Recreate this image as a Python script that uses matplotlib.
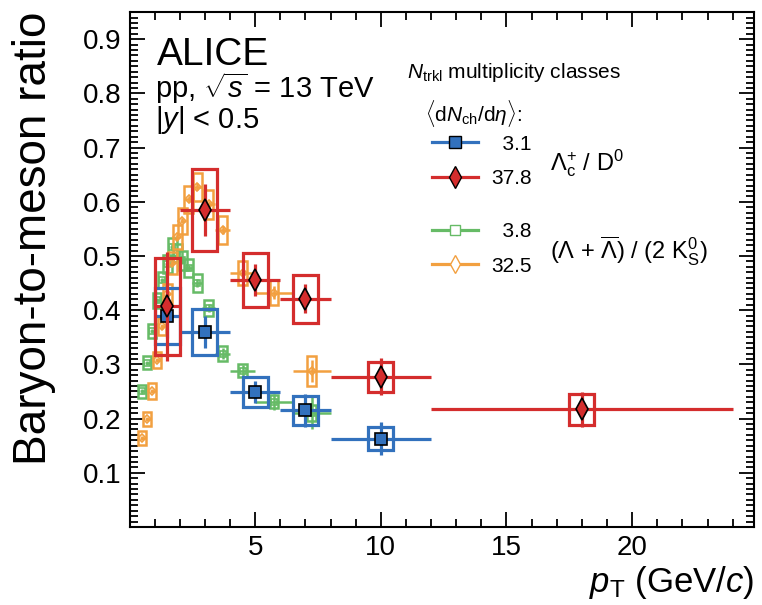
import numpy as np
import matplotlib
matplotlib.use('Agg')
import matplotlib.pyplot as plt
from matplotlib.lines import Line2D
from matplotlib.ticker import MultipleLocator, FixedLocator

plt.rcParams['font.family'] = ['Liberation Sans', 'DejaVu Sans']
plt.rcParams['mathtext.fontset'] = 'custom'
plt.rcParams['mathtext.rm'] = 'Liberation Sans'
plt.rcParams['mathtext.it'] = 'Liberation Sans:italic'
plt.rcParams['mathtext.bf'] = 'Liberation Sans:bold'

# ====================== data ======================
# Lambda_c+ / D0, pT bins (GeV/c)
pt_hf = [1.5, 3.0, 5.0, 7.0, 10.0, 18.0]
pt_hf_err = [0.5, 1.0, 1.0, 1.0, 2.0, 6.0]

# <dNch/deta> = 3.1 (no point in the last bin)
lc_low = [0.389, 0.360, 0.249, 0.215, 0.163]
lc_low_stat = [0.040, 0.030, 0.020, 0.030, 0.030]
lc_low_syst = [0.052, 0.042, 0.027, 0.027, 0.021]

# <dNch/deta> = 37.8
lc_high = [0.407, 0.585, 0.456, 0.421, 0.277, 0.217]
lc_high_stat = [0.100, 0.048, 0.030, 0.027, 0.034, 0.032]
lc_high_syst = [0.090, 0.075, 0.050, 0.044, 0.028, 0.029]

# (Lambda + anti-Lambda) / (2 K0S)
pt_lf = [0.5, 0.7, 0.9, 1.1, 1.3, 1.5, 1.7, 1.9, 2.1, 2.35, 2.7, 3.15, 3.7, 4.5, 5.75, 7.25]
pt_lf_err = [0.1, 0.1, 0.1, 0.1, 0.1, 0.1, 0.1, 0.1, 0.1, 0.15, 0.2, 0.25, 0.3, 0.5, 0.75, 0.75]

# <dNch/deta> = 3.8
lk_low = [0.250, 0.303, 0.362, 0.418, 0.455, 0.485, 0.517, 0.505, 0.492, 0.478,
          0.450, 0.404, 0.320, 0.288, 0.231, 0.210]
lk_low_stat = [0.004, 0.004, 0.004, 0.005, 0.005, 0.005, 0.006, 0.006, 0.006, 0.006,
               0.007, 0.008, 0.010, 0.010, 0.015, 0.030]
lk_low_syst = [0.012, 0.012, 0.013, 0.014, 0.015, 0.016, 0.017, 0.017, 0.017, 0.017,
               0.016, 0.015, 0.013, 0.012, 0.012, 0.015]

# <dNch/deta> = 32.5
lk_high = [0.164, 0.199, 0.251, 0.308, 0.370, 0.430, 0.487, 0.535, 0.565, 0.605,
           0.628, 0.595, 0.548, 0.468, 0.432, 0.288]
lk_high_stat = [0.003, 0.003, 0.003, 0.004, 0.004, 0.004, 0.005, 0.005, 0.005, 0.005,
                0.006, 0.006, 0.008, 0.008, 0.012, 0.020]
lk_high_syst = [0.013, 0.013, 0.014, 0.015, 0.016, 0.018, 0.020, 0.022, 0.024, 0.025,
                0.026, 0.026, 0.026, 0.022, 0.023, 0.028]

# ====================== style ======================
C_BLUE = '#3271bd'
C_RED = '#d42d2d'
C_GREEN = '#66bb66'
C_ORANGE = '#f2a040'


def draw_series(ax, x, xerr, y, stat, syst, color, marker, box_hw, lw, ms,
                mfc, mec, mew, z):
    x = np.asarray(x)
    y = np.asarray(y)
    syst = np.asarray(syst)
    ax.bar(x, 2 * syst, bottom=y - syst, width=2 * box_hw, fill=False,
           edgecolor=color, linewidth=lw, zorder=z)
    ax.errorbar(x, y, xerr=xerr, yerr=stat, fmt='none', ecolor=color,
                elinewidth=lw, capsize=0, zorder=z + 0.1)
    ax.plot(x, y, ls='none', marker=marker, ms=ms, mfc=mfc, mec=mec,
            mew=mew, zorder=z + 0.2)


fig = plt.figure(figsize=(7.62, 6.05), dpi=100)
ax = fig.add_axes([0.170, 0.129, 0.8195, 0.851])

n_low = len(lc_low)
draw_series(ax, pt_lf, pt_lf_err, lk_low, lk_low_stat, lk_low_syst, C_GREEN, 's',
            0.17, 1.8, 4.5, 'none', C_GREEN, 1.2, 2)
draw_series(ax, pt_lf, pt_lf_err, lk_high, lk_high_stat, lk_high_syst, C_ORANGE, 'D',
            0.17, 1.8, 4.0, 'none', C_ORANGE, 1.2, 3)
draw_series(ax, pt_hf[:n_low], pt_hf_err[:n_low], lc_low, lc_low_stat, lc_low_syst,
            C_BLUE, 's', 0.5, 2.3, 9, C_BLUE, 'black', 1.2, 4)
draw_series(ax, pt_hf, pt_hf_err, lc_high, lc_high_stat, lc_high_syst,
            C_RED, 'd', 0.5, 2.3, 11, C_RED, 'black', 1.2, 5)

# axes
ax.set_xlim(0, 24.85)
ax.set_ylim(0, 0.95)
ax.xaxis.set_major_locator(FixedLocator([5, 10, 15, 20]))
ax.xaxis.set_minor_locator(MultipleLocator(1))
ax.yaxis.set_major_locator(FixedLocator([0.1, 0.2, 0.3, 0.4, 0.5, 0.6, 0.7, 0.8, 0.9]))
ax.yaxis.set_minor_locator(MultipleLocator(0.01))
ax.tick_params(which='both', direction='in', top=True, right=True, width=1.3,
               labelsize=20)
ax.tick_params(which='major', length=10.5, pad=6)
ax.tick_params(which='minor', length=5.5)
for sp in ax.spines.values():
    sp.set_linewidth(1.5)

ax.set_xlabel(r'$p_{\rm T}$ (GeV/$c$)', fontsize=25, loc='right')
ax.xaxis.set_label_coords(1.0, -0.072)
ax.set_ylabel('Baryon-to-meson ratio', fontsize=33, loc='top')
ax.yaxis.set_label_coords(-0.118, 1.0)

# labels
ax.text(0.044, 0.897, 'ALICE', transform=ax.transAxes, fontsize=28, va='baseline')
ax.text(0.041, 0.833, r'pp, $\sqrt{s}$ = 13 TeV', transform=ax.transAxes,
        fontsize=21, va='baseline')
ax.text(0.041, 0.775, r'|$y$| < 0.5', transform=ax.transAxes, fontsize=21,
        va='baseline')

ax.text(0.444, 0.882, r'$N_{\rm trkl}$ multiplicity classes', transform=ax.transAxes,
        fontsize=15, va='center')
ax.text(0.473, 0.804, r'$\langle$d$N_{\rm ch}$/d$\eta\rangle$:', transform=ax.transAxes,
        fontsize=15, va='center')
ax.text(0.673, 0.707, r'$\Lambda_{\rm c}^{+}$ / D$^{0}$', transform=ax.transAxes,
        fontsize=17, va='center')
ax.text(0.673, 0.536, r'($\Lambda$ + $\overline{\Lambda}$) / (2 K$_{\rm S}^{0}$)',
        transform=ax.transAxes, fontsize=17, va='center')

# legends
h_blue = Line2D([], [], color=C_BLUE, lw=2.3, marker='s', ms=8.5, mfc=C_BLUE, mec='black')
h_red = Line2D([], [], color=C_RED, lw=2.3, marker='d', ms=11, mfc=C_RED, mec='black')
h_green = Line2D([], [], color=C_GREEN, lw=2.3, marker='s', ms=7, mfc='white', mec=C_GREEN)
h_orange = Line2D([], [], color=C_ORANGE, lw=2.3, marker='d', ms=9, mfc='white', mec=C_ORANGE)

leg_kw = dict(frameon=False, fontsize=15, handlelength=2.2, handletextpad=0.65,
              labelspacing=0.75, borderpad=0, borderaxespad=0, loc='upper left')
leg1 = ax.legend([h_blue, h_red], ['  3.1', '37.8'],
                 bbox_to_anchor=(0.484, 0.762), **leg_kw)
ax.add_artist(leg1)
ax.legend([h_green, h_orange], ['  3.8', '32.5'],
          bbox_to_anchor=(0.484, 0.592), **leg_kw)

fig.savefig('out.png', dpi=100)
